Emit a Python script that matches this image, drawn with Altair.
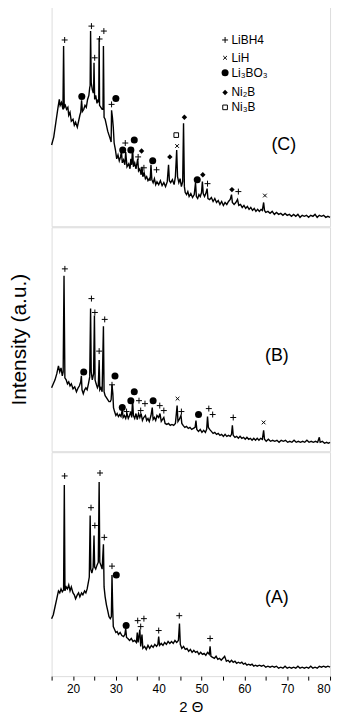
import altair as alt
import pandas as pd

FONT = "Liberation Sans"

# ---------------- data: 2-theta (deg) vs intensity (a.u.) ----------------
trace_c = [
    (15.0, 82), (15.5, 90), (16.0, 105), (16.5, 120), (16.8, 128), (17.0, 122), (17.3, 125),
    (17.65, 118), (17.8, 182), (17.95, 120), (18.2, 122), (18.5, 118), (18.8, 120), (19.0, 112),
    (19.3, 115), (19.6, 106), (20.0, 108), (20.3, 102), (20.6, 105), (21.0, 100), (21.3, 106),
    (21.6, 112), (21.8, 115), (22.0, 127), (22.2, 116), (22.5, 118), (22.8, 122), (23.1, 120),
    (23.4, 128), (23.7, 132), (23.9, 140), (24.0, 142), (24.1, 197), (24.25, 145), (24.5, 138),
    (24.7, 135), (24.8, 135), (24.9, 165), (25.05, 128), (25.3, 132), (25.6, 124), (25.85, 128),
    (26.0, 125), (26.1, 190), (26.2, 122), (26.5, 120), (26.8, 118), (27.0, 118), (27.1, 182),
    (27.25, 110), (27.5, 108), (27.8, 102), (28.1, 96), (28.4, 92), (28.7, 88), (28.9, 85),
    (29.0, 117), (29.2, 110), (29.4, 100), (29.6, 84), (29.9, 77), (30.2, 68), (30.5, 72),
    (30.8, 66), (31.1, 70), (31.3, 76), (31.5, 64), (31.8, 67), (32.1, 62), (32.3, 75),
    (32.6, 60), (33.0, 63), (33.3, 58), (33.5, 68), (33.7, 62), (33.9, 80), (34.1, 60),
    (34.4, 64), (34.7, 58), (35.1, 68), (35.3, 56), (35.6, 58), (35.9, 52), (36.1, 60),
    (36.3, 50), (36.6, 54), (36.9, 48), (37.2, 50), (37.5, 46), (37.8, 48), (38.0, 46),
    (38.2, 62), (38.4, 47), (38.7, 44), (39.0, 48), (39.3, 42), (39.6, 45), (40.0, 42),
    (40.4, 46), (40.8, 41), (41.2, 44), (41.6, 40), (42.0, 45), (42.3, 62), (42.5, 46),
    (42.8, 44), (43.2, 47), (43.6, 42), (43.9, 50), (44.2, 77), (44.4, 50), (44.7, 44),
    (45.0, 48), (45.3, 40), (45.6, 45), (45.8, 104), (46.0, 40), (46.2, 34), (46.5, 32),
    (46.8, 35), (47.1, 30), (47.5, 33), (47.9, 29), (48.3, 32), (48.6, 44), (48.8, 30),
    (49.1, 28), (49.4, 32), (49.7, 30), (50.0, 34), (50.2, 45), (50.4, 33), (50.7, 30),
    (51.0, 33), (51.3, 38), (51.5, 28), (51.9, 27), (52.3, 29), (52.7, 25), (53.1, 28),
    (53.5, 24), (53.9, 26), (54.3, 22), (54.7, 25), (55.1, 21), (55.5, 24), (55.9, 22),
    (56.3, 25), (56.7, 27), (57.0, 32), (57.2, 24), (57.6, 22), (58.0, 24), (58.4, 27),
    (58.7, 21), (59.1, 22), (59.5, 19), (59.9, 21), (60.3, 18), (60.7, 20), (61.1, 17),
    (61.5, 19), (61.9, 16), (62.3, 18), (62.7, 15), (63.1, 17), (63.5, 15), (63.9, 17),
    (64.2, 16), (64.5, 24), (64.7, 16), (65.0, 14), (65.5, 15), (66.0, 13), (66.5, 15),
    (67.0, 12), (67.5, 14), (68.0, 12), (68.5, 13), (69.0, 11), (69.5, 13), (70.0, 11),
    (70.5, 12), (71.0, 10), (71.5, 12), (72.0, 10), (72.5, 12), (73.0, 9), (73.5, 11),
    (74.0, 10), (74.5, 11), (75.0, 9), (75.5, 11), (76.0, 10), (76.5, 12), (77.0, 9),
    (77.5, 11), (78.0, 10), (78.5, 11), (79.0, 9), (79.5, 10), (80.0, 9),
]

trace_b = [
    (15.0, 64), (15.4, 68), (15.8, 72), (16.2, 78), (16.6, 86), (16.9, 80), (17.2, 84),
    (17.5, 76), (17.7, 80), (17.9, 177), (18.1, 74), (18.4, 72), (18.7, 68), (19.0, 70),
    (19.3, 66), (19.6, 68), (20.0, 63), (20.4, 65), (20.8, 60), (21.2, 64), (21.5, 66),
    (21.8, 70), (21.95, 76), (22.1, 62), (22.4, 58), (22.7, 62), (23.0, 64), (23.3, 62),
    (23.6, 68), (23.9, 75), (24.1, 144), (24.25, 80), (24.5, 72), (24.8, 78), (25.0, 137),
    (25.15, 72), (25.4, 68), (25.7, 64), (25.9, 66), (26.1, 92), (26.25, 62), (26.5, 64),
    (26.8, 60), (27.1, 126), (27.25, 60), (27.5, 56), (27.8, 54), (28.1, 52), (28.4, 50),
    (28.7, 50), (28.9, 52), (29.1, 67), (29.3, 58), (29.45, 44), (29.7, 40), (30.0, 36),
    (30.3, 38), (30.6, 35), (30.9, 37), (31.2, 35), (31.5, 42), (31.7, 34), (32.0, 36),
    (32.3, 33), (32.6, 38), (32.9, 33), (33.2, 36), (33.5, 40), (33.7, 34), (33.9, 52),
    (34.1, 36), (34.4, 33), (34.7, 38), (35.0, 32), (35.3, 38), (35.6, 34), (35.9, 38),
    (36.2, 31), (36.5, 34), (36.9, 36), (37.2, 31), (37.5, 33), (37.8, 30), (38.2, 36),
    (38.5, 44), (38.7, 32), (39.0, 34), (39.3, 31), (39.6, 36), (40.0, 34), (40.3, 38),
    (40.6, 30), (40.9, 32), (41.2, 34), (41.5, 28), (41.9, 27), (42.3, 28), (42.7, 26),
    (43.1, 27), (43.5, 26), (43.9, 28), (44.3, 46), (44.5, 30), (44.8, 32), (45.2, 36),
    (45.4, 28), (45.7, 26), (46.1, 24), (46.5, 25), (46.9, 23), (47.3, 24), (47.7, 22),
    (48.1, 23), (48.5, 24), (48.7, 31), (48.9, 22), (49.3, 20), (49.7, 22), (50.1, 19),
    (50.5, 21), (50.9, 19), (51.2, 22), (51.4, 35), (51.6, 24), (51.9, 22), (52.3, 20),
    (52.7, 18), (53.1, 19), (53.5, 17), (53.9, 18), (54.3, 16), (54.7, 17), (55.1, 15),
    (55.5, 17), (55.9, 15), (56.3, 16), (56.7, 15), (57.0, 17), (57.2, 26), (57.4, 16),
    (57.8, 14), (58.2, 15), (58.6, 13), (59.0, 15), (59.4, 13), (59.8, 14), (60.2, 12),
    (60.6, 14), (61.0, 12), (61.4, 13), (61.8, 11), (62.2, 13), (62.6, 11), (63.0, 13),
    (63.4, 11), (63.8, 13), (64.2, 12), (64.5, 21), (64.7, 12), (65.1, 10), (65.6, 12),
    (66.1, 10), (66.6, 11), (67.1, 10), (67.6, 11), (68.1, 9), (68.6, 11), (69.1, 10),
    (69.6, 11), (70.1, 9), (70.6, 10), (71.1, 9), (71.6, 11), (72.1, 9), (72.6, 10),
    (73.1, 9), (73.6, 10), (74.1, 9), (74.6, 11), (75.1, 9), (75.6, 10), (76.1, 9),
    (76.6, 10), (77.1, 9), (77.5, 14), (77.7, 9), (78.2, 10), (78.7, 8), (79.2, 9),
    (79.6, 8), (80.0, 9),
]

trace_a = [
    (15.0, 58), (15.4, 62), (15.8, 70), (16.2, 78), (16.6, 86), (16.9, 84), (17.2, 88),
    (17.5, 85), (17.8, 87), (17.97, 193), (18.12, 86), (18.4, 90), (18.7, 88), (19.0, 92),
    (19.3, 86), (19.6, 90), (20.0, 84), (20.3, 82), (20.6, 78), (21.0, 82), (21.3, 84),
    (21.6, 80), (22.0, 84), (22.3, 82), (22.7, 86), (23.0, 84), (23.3, 88), (23.6, 95),
    (23.8, 100), (24.0, 162), (24.15, 108), (24.4, 104), (24.7, 110), (24.9, 142), (25.05, 110),
    (25.3, 108), (25.6, 112), (25.9, 115), (26.1, 196), (26.25, 115), (26.5, 112), (26.8, 108),
    (27.1, 133), (27.25, 90), (27.5, 80), (27.8, 72), (28.1, 66), (28.4, 60), (28.7, 58),
    (28.95, 60), (29.1, 102), (29.25, 70), (29.4, 50), (29.7, 47), (30.0, 44), (30.3, 45),
    (30.6, 42), (31.0, 44), (31.4, 41), (31.8, 40), (32.1, 42), (32.3, 48), (32.5, 39),
    (32.8, 38), (33.2, 36), (33.6, 38), (34.0, 35), (34.4, 36), (34.8, 34), (35.0, 44),
    (35.2, 34), (35.6, 47), (35.8, 30), (36.1, 42), (36.3, 28), (36.7, 30), (37.1, 27),
    (37.5, 31), (37.9, 28), (38.3, 31), (38.7, 29), (39.1, 32), (39.5, 30), (39.8, 32),
    (40.0, 40), (40.2, 31), (40.6, 33), (41.0, 31), (41.4, 34), (41.8, 32), (42.2, 35),
    (42.6, 33), (43.0, 35), (43.4, 33), (43.8, 36), (44.2, 34), (44.6, 36), (44.85, 53),
    (45.05, 32), (45.4, 28), (45.8, 30), (46.2, 27), (46.6, 28), (47.0, 25), (47.4, 27),
    (47.8, 24), (48.2, 26), (48.6, 24), (49.0, 25), (49.4, 22), (49.8, 24), (50.2, 22),
    (50.6, 23), (51.0, 21), (51.4, 24), (51.8, 22), (52.0, 30), (52.2, 20), (52.6, 19),
    (53.0, 18), (53.4, 20), (53.8, 17), (54.2, 18), (54.6, 16), (55.0, 18), (55.4, 20),
    (55.8, 15), (56.2, 16), (56.6, 14), (57.0, 16), (57.4, 14), (57.8, 15), (58.2, 13),
    (58.6, 14), (59.0, 13), (59.4, 14), (59.8, 12), (60.2, 13), (60.6, 11), (61.0, 12),
    (61.4, 11), (61.8, 12), (62.2, 10), (62.6, 11), (63.0, 10), (63.5, 11), (64.0, 10),
    (64.5, 11), (65.0, 9), (65.5, 10), (66.0, 9), (66.5, 10), (67.0, 9), (67.5, 10),
    (68.0, 8), (68.5, 9), (69.0, 8), (69.5, 10), (70.0, 8), (70.5, 9), (71.0, 8),
    (71.5, 9), (72.0, 8), (72.5, 10), (73.0, 8), (73.5, 9), (74.0, 8), (74.5, 9),
    (75.0, 8), (75.5, 10), (76.0, 8), (76.5, 9), (77.0, 8), (77.5, 10), (78.0, 9),
    (78.5, 10), (79.0, 9), (79.5, 10), (80.0, 9),
]

# ---------------- phase markers: (2-theta, height, phase) ----------------
markers_c = [
    (18.05, 188, "LiBH4"), (24.3, 202, "LiBH4"), (25.06, 170, "LiBH4"), (26.2, 189, "LiBH4"),
    (27.2, 197, "LiBH4"), (29.0, 123, "LiBH4"), (22.05, 131, "Li3BO3"), (30.0, 129, "Li3BO3"),
    (31.6, 77, "Li3BO3"), (32.2, 84, "LiBH4"), (33.5, 77, "Li3BO3"), (34.3, 87, "Li3BO3"),
    (36.0, 76, "Ni2B"), (35.2, 70, "LiBH4"), (36.55, 59, "LiBH4"), (38.6, 66, "Li3BO3"),
    (39.5, 57, "LiBH4"), (42.6, 70, "Ni2B"), (44.1, 92, "Ni3B"), (44.3, 81, "LiH"),
    (46.0, 110, "Ni2B"), (49.0, 47, "Li3BO3"), (50.3, 52, "Ni2B"), (51.4, 43, "LiBH4"),
    (57.1, 37, "Ni2B"), (58.6, 35, "LiBH4"), (64.8, 31, "LiH"),
]
markers_b = [
    (18.1, 184, "LiBH4"), (24.3, 154, "LiBH4"), (25.1, 140, "LiBH4"), (26.1, 101, "LiBH4"),
    (27.4, 133, "LiBH4"), (29.1, 67, "LiBH4"), (22.5, 80, "Li3BO3"), (29.8, 76, "Li3BO3"),
    (31.5, 44, "Li3BO3"), (32.5, 40, "LiBH4"), (33.5, 51, "Li3BO3"), (34.3, 60, "Li3BO3"),
    (35.4, 51, "LiBH4"), (36.8, 48, "LiBH4"), (35.8, 41, "LiBH4"), (38.7, 51, "Li3BO3"),
    (40.25, 46, "LiBH4"), (41.2, 41, "LiBH4"), (44.4, 53, "LiH"), (45.3, 40, "LiBH4"),
    (49.3, 37, "Li3BO3"), (51.7, 43, "LiBH4"), (52.6, 37, "LiBH4"), (57.4, 34, "LiBH4"),
    (64.5, 29, "LiH"),
]
markers_a = [
    (18.05, 202, "LiBH4"), (24.2, 170, "LiBH4"), (26.3, 205, "LiBH4"), (25.1, 152, "LiBH4"),
    (27.3, 140, "LiBH4"), (29.1, 111, "LiBH4"), (30.1, 102, "Li3BO3"), (32.4, 51, "Li3BO3"),
    (35.1, 56, "LiBH4"), (36.55, 58, "LiBH4"), (35.8, 50, "LiBH4"), (40.0, 46, "LiBH4"),
    (44.8, 61, "LiBH4"), (52.0, 38, "LiBH4"),
]

# legend (drawn inside panel C)
legend_phases = ["LiBH4", "LiH", "Li3BO3", "Ni2B", "Ni3B"]
legend_labels = ["LiBH4", "LiH", "Li₃BO₃", "Ni₂B", "Ni₃B"]
legend_heights = [188, 170, 155, 135, 120]
legend_marker_x = 55.5
legend_text_x = 57.0

panel_labels = ["(C)", "(B)", "(A)"]
panel_label_pos = [(69.2, 82), (67.6, 96), (67.6, 79)]

x_ticks = [15, 20, 25, 30, 35, 40, 45, 50, 55, 60, 65, 70, 75, 80]

# ---------------- styling ----------------
PHASE_STYLE = {
    "LiBH4": dict(shape="M-1,0L1,0M0,-1L0,1", filled=False, size=36, strokeWidth=1),
    "LiH": dict(shape="M-1,-1L1,1M-1,1L1,-1", filled=False, size=14, strokeWidth=1),
    "Li3BO3": dict(shape="circle", filled=True, size=50, strokeWidth=0),
    "Ni2B": dict(shape="diamond", filled=True, size=30, strokeWidth=0),
    "Ni3B": dict(shape="square", filled=False, size=22, strokeWidth=1),
}

PW, PH = 281, 226


def enc_x(show_axis):
    if show_axis:
        ax = alt.Axis(
            values=x_ticks, title="2 Θ", grid=False, domain=False,
            labelExpr="datum.value % 10 == 0 ? datum.label : ''",
            tickSize=4, tickColor="black", labelFontSize=12, labelFont=FONT,
            labelColor="black", labelPadding=4, titleFontSize=15, titleFont=FONT,
            titleFontWeight="normal", titleColor="black", titlePadding=5,
        )
    else:
        ax = None
    return alt.X("t:Q", scale=alt.Scale(domain=[15, 80], nice=False, zero=False), axis=ax)


def enc_y(title_visible):
    return alt.Y(
        "i:Q",
        scale=alt.Scale(domain=[0, PH], nice=False, zero=False),
        axis=alt.Axis(
            title="Intensity (a.u.)", labels=False, ticks=False, domain=False, grid=False,
            titleFontSize=21, titleFont=FONT, titleFontWeight="normal",
            titleColor="black", titleOpacity=1 if title_visible else 0, titlePadding=22,
        ),
    )


def panel(trace, markers, label, label_pos, show_x, title_visible, with_legend=False):
    x = enc_x(show_x)
    y = enc_y(title_visible)
    df = pd.DataFrame(trace, columns=["t", "i"])
    layers = [alt.Chart(df).mark_line(color="#000000", strokeWidth=1.4).encode(x=x, y=y)]

    mk = pd.DataFrame(markers, columns=["t", "i", "phase"])
    if with_legend:
        leg = pd.DataFrame({"t": [legend_marker_x] * len(legend_phases),
                            "i": legend_heights, "phase": legend_phases})
        mk = pd.concat([mk, leg], ignore_index=True)
    for phase, st in PHASE_STYLE.items():
        sub = mk[mk["phase"] == phase]
        if len(sub) == 0:
            continue
        layers.append(
            alt.Chart(sub).mark_point(
                shape=st["shape"], filled=st["filled"], size=st["size"],
                strokeWidth=st["strokeWidth"], color="black", opacity=1,
            ).encode(x=x, y=y)
        )
    if with_legend:
        txt = pd.DataFrame({"t": [legend_text_x] * len(legend_labels),
                            "i": legend_heights, "label": legend_labels})
        layers.append(
            alt.Chart(txt).mark_text(align="left", baseline="middle", fontSize=12,
                                     font=FONT, color="black").encode(x=x, y=y, text="label:N")
        )
    lab = pd.DataFrame({"t": [label_pos[0]], "i": [label_pos[1]], "label": [label]})
    layers.append(
        alt.Chart(lab).mark_text(align="center", baseline="middle", fontSize=18,
                                 font=FONT, color="black").encode(x=x, y=y, text="label:N")
    )
    return alt.layer(*layers).properties(width=PW, height=PH)


top = panel(trace_c, markers_c, panel_labels[0], panel_label_pos[0], False, False, with_legend=True)
mid = panel(trace_b, markers_b, panel_labels[1], panel_label_pos[1], False, True)
bot = panel(trace_a, markers_a, panel_labels[2], panel_label_pos[2], True, False)

chart = (
    alt.vconcat(top, mid, bot, spacing=-2)
    .properties(padding={"left": 0, "top": -10, "right": 0, "bottom": 0})
    .configure_view(stroke="#1a1a1a", strokeWidth=2)
    .configure(background="white")
)

chart.save("out.html", embed_options={"renderer": "svg", "actions": False})
